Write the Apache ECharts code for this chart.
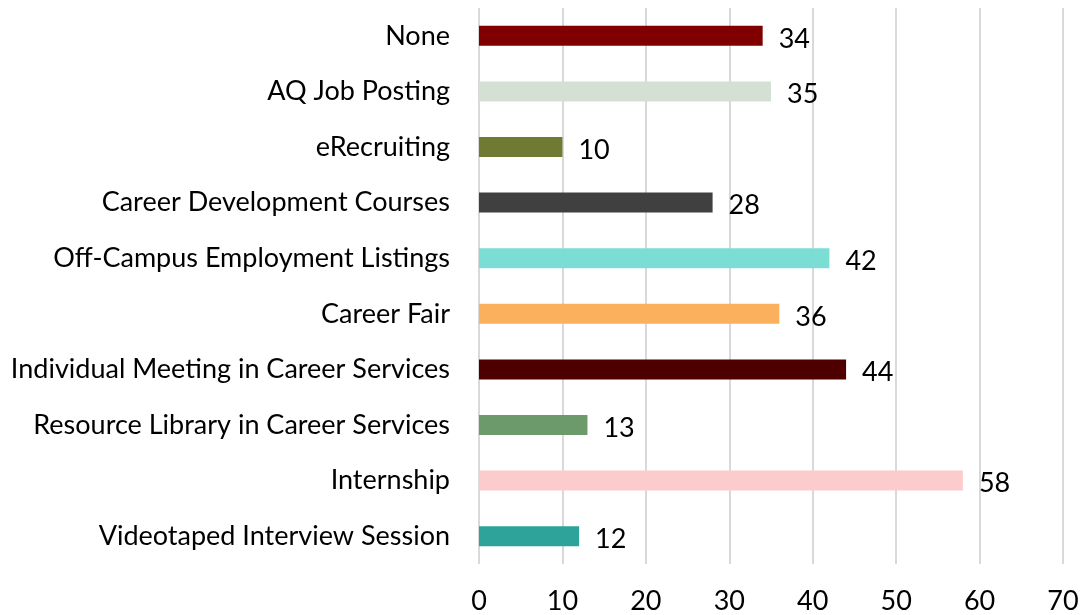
<!DOCTYPE html>
<html>
<head>
<meta charset="utf-8">
<script src="https://cdn.jsdelivr.net/npm/echarts@6/dist/echarts.min.js"></script>
<style>
  html, body { margin: 0; padding: 0; background: #ffffff; }
  #chart { width: 1090px; height: 615px; }
</style>
</head>
<body>
<div id="chart"></div>
<script>
// Categories listed bottom to top (category axis starts at the bottom)
const categories = [
  'Videotaped Interview Session',
  'Internship',
  'Resource Library in Career Services',
  'Individual Meeting in Career Services',
  'Career Fair',
  'Off-Campus Employment Listings',
  'Career Development Courses',
  'eRecruiting',
  'AQ Job Posting',
  'None'
];
const values = [12, 58, 13, 44, 36, 42, 28, 10, 35, 34];
const barColors = [
  '#2ea39a', '#fccbcb', '#6d9a6a', '#4e0000', '#fbb05e',
  '#7cddd5', '#404040', '#707a32', '#d5e0d4', '#800000'
];
const xTicks = [0, 10, 20, 30, 40, 50, 60, 70];

const fontFamily = 'Lato, "Open Sans", sans-serif';
const fontSize = 27;

const chart = echarts.init(document.getElementById('chart'), null, { renderer: 'canvas' });
chart.setOption({
  animation: false,
  backgroundColor: '#ffffff',
  grid: { left: 479, right: 27, top: 8, bottom: 51, containLabel: false },
  xAxis: {
    type: 'value',
    min: xTicks[0],
    max: xTicks[xTicks.length - 1],
    interval: xTicks[1] - xTicks[0],
    axisLine: { show: false },
    axisTick: { show: false },
    splitLine: { show: true, lineStyle: { color: '#d9d9d9', width: 2 } },
    axisLabel: { color: '#000000', fontSize: fontSize, fontFamily: fontFamily, margin: 24 }
  },
  yAxis: {
    type: 'category',
    data: categories,
    axisLine: { show: false },
    axisTick: { show: false },
    axisLabel: { color: '#000000', fontSize: fontSize, fontFamily: fontFamily, margin: 29 }
  },
  series: [{
    type: 'bar',
    barWidth: 20,
    data: values.map((v, i) => ({ value: v, itemStyle: { color: barColors[i] } })),
    label: {
      show: true,
      position: 'right',
      distance: 16,
      color: '#000000',
      fontSize: fontSize,
      fontFamily: fontFamily,
      offset: [0, 3]
    }
  }]
});
</script>
</body>
</html>
